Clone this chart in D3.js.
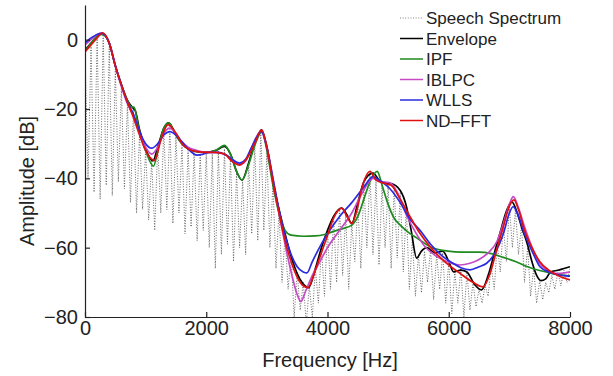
<!DOCTYPE html>
<html><head><meta charset="utf-8">
<script src="https://cdn.jsdelivr.net/npm/d3@7"></script>
<style>
html,body{margin:0;padding:0;background:#fff;}
svg{display:block;font-family:"Liberation Sans",Arial,Helvetica,sans-serif;}
</style></head>
<body><svg id="chart" width="613" height="376"></svg>
<script>
// ---- data ----
const xTicks = [0, 2000, 4000, 6000, 8000];
const yTicks = [-80, -60, -40, -20, 0];
const xLabel = "Frequency [Hz]";
const yLabel = "Amplitude [dB]";
const legendNames = ["Speech Spectrum", "Envelope", "IPF", "IBLPC", "WLLS", "ND\u2013FFT"];

// speech spectrum sampled every 50 Hz (harmonic peaks / valleys)
const spectrumStep = 50;
const spectrumDb = [
 -4,-40,-2,-44,1,-46,1.5,-42,-2,-45,-8.5,-41,-14,-43,-18.5,-47,-20,-50,-27,-49,
 -32,-52,-35,-55,-30.5,-50,-26,-49,-25,-53,-28,-50,-30.5,-56,-32,-54,-32.5,-58,-33,-55,
 -33,-60,-33,-66,-32,-62,-31.5,-59,-34,-64,-38.5,-60,-40.5,-62,-35.5,-56,-30,-58,-26.5,-55,
 -32.5,-60,-41.5,-66,-49.5,-70,-56.5,-72,-62,-80,-67,-78,-70,-82,-71,-80,-66,-76,-60,-74,
 -55,-72,-51,-70,-49,-68,-50.5,-72,-53,-64,-47.5,-66,-41.5,-60,-38.5,-62,-40.5,-65,-42,-60,
 -42,-66,-42.5,-63,-44,-67,-48.5,-72,-57,-74,-62,-73,-61,-70,-60.5,-75,-62,-72,-61.5,-76,
 -64,-79,-67,-76,-66,-80,-67,-78,-70,-77,-72,-76,-71,-74,-65,-72,-59,-67,-53.5,-64,
 -48,-60,-49,-62,-53.5,-70,-60,-74,-66,-76,-69.5,-75,-70,-73,-68,-72,-67,-71,-66.5,-70,
 -66
];

const envelope = [[0,-3],[100,-1],[200,1],[280,1.8],[400,-1],[500,-7.5],[600,-13],[700,-17.5],[780,-19.5],[830,-20.5],[900,-26],[1000,-31.5],[1120,-35],[1200,-31],[1300,-25.5],[1380,-24],[1500,-27.5],[1600,-30],[1700,-31.5],[1850,-32.3],[2000,-32.5],[2150,-32],[2300,-30.8],[2400,-33],[2500,-38],[2590,-40.5],[2700,-35.5],[2800,-30],[2910,-26],[3000,-31],[3100,-41],[3200,-49],[3300,-56],[3400,-62.5],[3500,-67.5],[3600,-70.5],[3690,-71.5],[3800,-66],[3900,-60],[4000,-55],[4100,-51],[4230,-48.6],[4320,-50.5],[4400,-53],[4500,-47],[4600,-41],[4750,-38.5],[4850,-40.5],[4950,-41.3],[5050,-41.5],[5200,-43.5],[5300,-48],[5380,-55],[5470,-63],[5550,-61],[5640,-60],[5770,-61.5],[5900,-61],[6000,-64],[6080,-67],[6200,-66.5],[6300,-67],[6420,-70.5],[6540,-72.2],[6650,-68],[6760,-61],[6850,-55.5],[6950,-49.5],[7040,-46.8],[7130,-50],[7200,-54],[7290,-58.6],[7380,-64.5],[7450,-68],[7520,-69.5],[7600,-69],[7680,-67],[7800,-66.5],[7900,-66],[8000,-65.5]];

const ipf = [[0,-3.5],[100,-1],[200,1],[280,1.5],[400,-1],[500,-7.5],[600,-13],[700,-17.5],[760,-19.3],[810,-19.5],[880,-25],[1000,-32],[1130,-36.5],[1200,-32],[1300,-25.5],[1380,-24],[1500,-27.5],[1600,-30],[1700,-31.5],[1850,-32.3],[2000,-32.5],[2150,-32],[2300,-30.5],[2400,-33],[2500,-38],[2590,-40.5],[2700,-36],[2800,-30.5],[2920,-26.5],[3000,-32],[3100,-42],[3200,-50],[3300,-55],[3400,-56.4],[3600,-56.7],[3800,-56.6],[3950,-56.2],[4100,-55.3],[4250,-54.5],[4400,-53.5],[4500,-51],[4600,-46],[4700,-41],[4820,-38],[4900,-42],[4980,-46.5],[5100,-51.5],[5200,-53.5],[5350,-55.8],[5500,-57.5],[5700,-59.8],[5900,-60.8],[6100,-61.2],[6300,-61.3],[6500,-61.3],[6700,-61.7],[6900,-62.8],[7100,-64],[7300,-65.5],[7500,-66.6],[7700,-67.4],[7900,-68],[8000,-68.2]];

const iblpc = [[0,-1.5],[100,0],[200,1.5],[280,2],[400,-1],[500,-7.5],[600,-13.5],[700,-18.5],[800,-22],[900,-27],[1000,-31],[1100,-33],[1200,-31],[1300,-27],[1400,-25.5],[1500,-27],[1600,-29.5],[1700,-31],[1850,-32],[2000,-32.5],[2150,-32.5],[2300,-33],[2450,-35],[2550,-36],[2650,-35],[2750,-31],[2900,-26.5],[3000,-31],[3100,-40],[3200,-50],[3300,-59],[3400,-67],[3500,-73.5],[3560,-75.5],[3640,-72.5],[3750,-68],[3876,-64],[4000,-60],[4200,-55],[4400,-50],[4550,-45],[4750,-40],[4850,-40.8],[5030,-41.3],[5150,-44],[5300,-50.5],[5450,-55.5],[5600,-59.5],[5800,-62.5],[6000,-64.2],[6185,-65],[6350,-64.5],[6500,-63.4],[6650,-61.5],[6800,-58],[6900,-53],[7000,-47.5],[7065,-45.3],[7150,-48.5],[7250,-54],[7400,-61],[7500,-64.5],[7650,-66.8],[7800,-67.5],[8000,-67]];

const wlls = [[0,-1],[100,0.5],[200,1.5],[280,1.8],[400,-1],[500,-7.5],[600,-13],[700,-18],[800,-21.5],[900,-26.5],[1000,-30],[1100,-31.3],[1200,-30],[1300,-27.5],[1400,-26.5],[1500,-27.5],[1600,-29.5],[1700,-31.5],[1850,-33.3],[1950,-33],[2050,-32.5],[2200,-32.5],[2350,-33.5],[2450,-34.8],[2550,-35.6],[2650,-34.5],[2750,-31],[2910,-26.5],[3000,-31],[3100,-40],[3200,-49],[3300,-56.5],[3400,-62],[3500,-65.5],[3600,-67],[3660,-67.3],[3750,-64],[3876,-59.7],[4000,-56],[4200,-51],[4400,-47],[4600,-42.5],[4750,-39.5],[4850,-40.5],[5030,-43],[5200,-47],[5350,-51.5],[5526,-55],[5700,-59],[5900,-62.5],[6070,-64.5],[6200,-65.8],[6350,-66.4],[6500,-65.5],[6625,-64.5],[6790,-60.7],[6900,-56],[7000,-50],[7060,-48.2],[7130,-50],[7250,-56],[7400,-62],[7505,-65.5],[7650,-67],[7800,-67.8],[8000,-68.2]];

const ndfft = [[0,-3.5],[100,-1.5],[200,0.5],[290,2],[400,-1],[500,-7.5],[600,-13],[700,-18],[790,-22],[900,-27.5],[1000,-32],[1150,-34.8],[1250,-29],[1370,-24.5],[1500,-27],[1600,-30],[1700,-31.5],[1850,-32.3],[2000,-32.5],[2150,-32.5],[2300,-33],[2420,-35],[2550,-36.2],[2680,-34],[2800,-30],[2915,-26],[3000,-31],[3100,-41],[3200,-50],[3300,-58],[3400,-64],[3500,-68.5],[3600,-71],[3680,-71.5],[3780,-67.5],[3876,-62.6],[4000,-56.5],[4100,-51.5],[4234,-48.6],[4320,-51],[4400,-53],[4480,-49.5],[4580,-42],[4700,-38],[4800,-40.5],[4950,-41.5],[5050,-42],[5200,-46],[5360,-51],[5530,-56],[5690,-59.7],[5900,-63.5],[6185,-67.4],[6400,-70],[6566,-71.3],[6680,-67.5],[6800,-60],[6900,-54],[7000,-48],[7076,-46.2],[7150,-49],[7250,-55],[7400,-61],[7500,-64],[7650,-66.5],[7800,-68],[8000,-69.3]];

const seriesColors = ["#000000", "#1f8a1f", "#c64ac6", "#2a2ae0", "#e01010"];

// ---- layout ----
const svg = d3.select("#chart");
const x = d3.scaleLinear().domain([0, 8000]).range([85, 570]);
const y = d3.scaleLinear().domain([-80, 10]).range([317, 5]);

svg.append("defs").append("clipPath").attr("id", "plot")
  .append("rect").attr("x", x(0)).attr("y", y(10)).attr("width", x(8000) - x(0)).attr("height", y(-80) - y(10));

const g = svg.append("g").attr("clip-path", "url(#plot)");

const specLine = d3.line().x((d, i) => x(i * spectrumStep)).y(d => y(d)).curve(d3.curveLinear);
g.append("path").datum(spectrumDb).attr("d", specLine)
  .attr("fill", "none").attr("stroke", "#444").attr("stroke-width", 0.8)
  .attr("stroke-dasharray", "1,1.6");

const line = d3.line().x(d => x(d[0])).y(d => y(d[1])).curve(d3.curveMonotoneX);
[envelope, ipf, iblpc, wlls, ndfft].forEach((s, i) => {
  g.append("path").datum(s).attr("d", line)
    .attr("fill", "none").attr("stroke", seriesColors[i]).attr("stroke-width", 1.7)
    .attr("stroke-linejoin", "round");
});

// axes
const xAxis = d3.axisBottom(x).tickValues(xTicks).tickFormat(d3.format("d"))
  .tickSizeInner(-5).tickSizeOuter(0).tickPadding(4);
const yAxis = d3.axisLeft(y).tickValues(yTicks).tickFormat(d3.format("d"))
  .tickSizeInner(-5).tickSizeOuter(0).tickPadding(7);

const gx = svg.append("g").attr("transform", `translate(0,${y(-80)})`).call(xAxis);
const gy = svg.append("g").attr("transform", `translate(${x(0)},0)`).call(yAxis);
[gx, gy].forEach(a => {
  a.select(".domain").attr("stroke", "#222").attr("stroke-width", 1.2);
  a.selectAll(".tick line").attr("stroke", "#222").attr("stroke-width", 1.2);
  a.selectAll(".tick text").attr("fill", "#222").style("font-size", "20px")
    .style("font-family", "'Liberation Sans', Arial, sans-serif");
});

svg.append("text").attr("x", 330).attr("y", 367).attr("text-anchor", "middle")
  .attr("fill", "#222").style("font-size", "20px").text(xLabel);
svg.append("text").attr("transform", "translate(34,181) rotate(-90)").attr("text-anchor", "middle")
  .attr("fill", "#222").style("font-size", "20px").text(yLabel);

// legend
const legend = svg.append("g");
legendNames.forEach((name, i) => {
  const cy = 18 + i * 20.5;
  const ln = legend.append("line").attr("x1", 400).attr("x2", 423).attr("y1", cy).attr("y2", cy);
  if (i === 0) {
    ln.attr("stroke", "#666").attr("stroke-width", 0.8).attr("stroke-dasharray", "1,1.6");
  } else {
    ln.attr("stroke", seriesColors[i - 1]).attr("stroke-width", 1.5);
  }
  legend.append("text").attr("x", 426).attr("y", cy).attr("dy", "0.36em")
    .attr("fill", "#222").style("font-size", "17px").text(name);
});
</script>
</body></html>
